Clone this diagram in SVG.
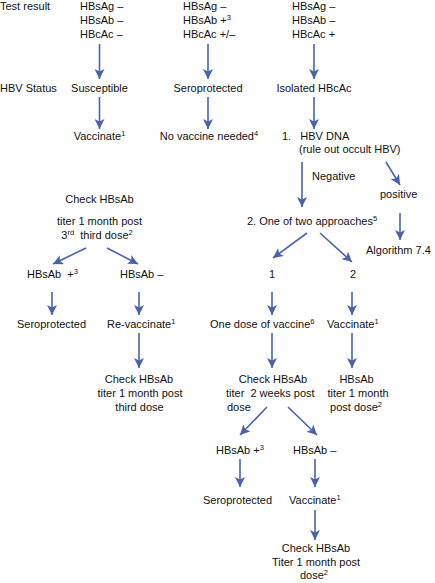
<svg xmlns="http://www.w3.org/2000/svg" width="435" height="583" viewBox="0 0 435 583">
<style>
text{font-family:"Liberation Sans",Arial,sans-serif;font-size:11px;fill:#111}
.m{text-anchor:middle}
.s{font-size:7.5px}
#connectors line{stroke:#4a62ad;stroke-width:1.6;fill:none;marker-end:url(#ah)}
</style>
<defs>
<marker id="ah" markerUnits="userSpaceOnUse" markerWidth="10" markerHeight="10" refX="10" refY="5" orient="auto">
<path d="M0,0 L10,5 L0,10 L2.5,5 z" fill="#4a62ad"/>
</marker>
</defs>
<rect width="435" height="583" fill="#fff"/>
<g id="labels">
<text x="0" y="10">Test result</text>
<text x="0" y="92">HBV Status</text>
</g>
<g id="n-test1"><text x="80" y="10">HBsAg –</text><text x="80" y="24">HBsAb –</text><text x="80" y="38">HBcAc –</text></g>
<g id="n-test2"><text x="183" y="10">HBsAg –</text><text x="183" y="24">HBsAb +<tspan class="s" dy="-4">3</tspan></text><text x="183" y="38">HBcAc +/–</text></g>
<g id="n-test3"><text x="292" y="10">HBsAg –</text><text x="292" y="24">HBsAb –</text><text x="292" y="38">HBcAc +</text></g>
<g id="n-susceptible"><text class="m" x="99.5" y="92">Susceptible</text></g>
<g id="n-seroprotected1"><text class="m" x="208" y="92">Seroprotected</text></g>
<g id="n-isolated"><text class="m" x="314" y="92">Isolated HBcAc</text></g>
<g id="n-vaccinate1"><text class="m" x="99.5" y="140">Vaccinate<tspan class="s" dy="-4">1</tspan></text></g>
<g id="n-novaccine"><text class="m" x="209" y="140">No vaccine needed<tspan class="s" dy="-4">4</tspan></text></g>
<g id="n-hbvdna"><text x="282" y="140">1.&#160;&#160;&#160;HBV DNA</text><text x="299" y="153">(rule out occult HBV)</text></g>
<g id="n-negative"><text x="312" y="180">Negative</text></g>
<g id="n-positive"><text x="380" y="198">positive</text></g>
<g id="n-algorithm"><text x="366" y="254">Algorithm 7.4</text></g>
<g id="n-approaches"><text class="m" x="312" y="225">2. One of two approaches<tspan class="s" dy="-4">5</tspan></text></g>
<g id="n-check1"><text class="m" x="99.5" y="203">Check HBsAb</text><text class="m" x="99.5" y="225">titer 1 month post</text><text class="m" x="97" y="239">3<tspan class="s" dy="-4">rd</tspan><tspan dy="4">&#160;&#160;third dose</tspan><tspan class="s" dy="-4">2</tspan></text></g>
<g id="n-hbsabpos1"><text x="27" y="278">HBsAb&#160;&#160;+<tspan class="s" dy="-4">3</tspan></text></g>
<g id="n-hbsabneg1"><text x="120" y="278">HBsAb –</text></g>
<g id="n-opt1"><text class="m" x="272" y="278">1</text></g>
<g id="n-opt2"><text class="m" x="353" y="278">2</text></g>
<g id="n-seroprotected2"><text x="17" y="328">Seroprotected</text></g>
<g id="n-revaccinate"><text x="107" y="328">Re-vaccinate<tspan class="s" dy="-4">1</tspan></text></g>
<g id="n-onedose"><text x="210" y="328">One dose of vaccine<tspan class="s" dy="-4">6</tspan></text></g>
<g id="n-vaccinate2"><text x="327" y="328">Vaccinate<tspan class="s" dy="-4">1</tspan></text></g>
<g id="n-check2"><text class="m" x="139" y="383">Check HBsAb</text><text class="m" x="140" y="397">titer 1 month post</text><text class="m" x="139.5" y="411">third dose</text></g>
<g id="n-check3"><text class="m" x="273" y="383">Check HBsAb</text><text x="226" y="397">titer&#160;&#160;2 weeks post</text><text x="227" y="411">dose</text></g>
<g id="n-check4"><text class="m" x="356.5" y="383">HBsAb</text><text class="m" x="358" y="397">titer 1 month</text><text class="m" x="356" y="411">post dose<tspan class="s" dy="-4">2</tspan></text></g>
<g id="n-hbsabpos2"><text x="216" y="454">HBsAb +<tspan class="s" dy="-4">3</tspan></text></g>
<g id="n-hbsabneg2"><text x="293" y="454">HBsAb –</text></g>
<g id="n-seroprotected3"><text x="203" y="504">Seroprotected</text></g>
<g id="n-vaccinate3"><text x="289" y="504">Vaccinate<tspan class="s" dy="-4">1</tspan></text></g>
<g id="n-check5"><text class="m" x="316" y="552">Check HBsAb</text><text class="m" x="316" y="566">Titer 1 month post</text><text class="m" x="314" y="579">dose<tspan class="s" dy="-4">2</tspan></text></g>
<g id="connectors">
<line x1="99.5" y1="44" x2="99.5" y2="79"/>
<line x1="208" y1="44" x2="208" y2="79"/>
<line x1="314" y1="44" x2="314" y2="79"/>
<line x1="99.5" y1="97" x2="99.5" y2="129"/>
<line x1="208" y1="97" x2="208" y2="129"/>
<line x1="314" y1="97" x2="314" y2="129"/>
<line x1="302" y1="162" x2="302" y2="207"/>
<line x1="386" y1="162" x2="400" y2="185"/>
<line x1="400" y1="213" x2="400" y2="240"/>
<line x1="307" y1="233" x2="273" y2="258"/>
<line x1="320" y1="233" x2="352" y2="262"/>
<line x1="86" y1="248" x2="53" y2="264"/>
<line x1="107" y1="248" x2="138" y2="264"/>
<line x1="52" y1="292" x2="52" y2="315"/>
<line x1="139" y1="292" x2="139" y2="315"/>
<line x1="272" y1="292" x2="272" y2="315"/>
<line x1="352" y1="292" x2="352" y2="315"/>
<line x1="139" y1="333" x2="139" y2="368"/>
<line x1="272" y1="333" x2="272" y2="368"/>
<line x1="352" y1="333" x2="352" y2="368"/>
<line x1="267" y1="407" x2="240" y2="435"/>
<line x1="288" y1="407" x2="317" y2="435"/>
<line x1="240" y1="459" x2="240" y2="487"/>
<line x1="315" y1="459" x2="315" y2="487"/>
<line x1="315" y1="510" x2="315" y2="540"/>
</g>
</svg>
